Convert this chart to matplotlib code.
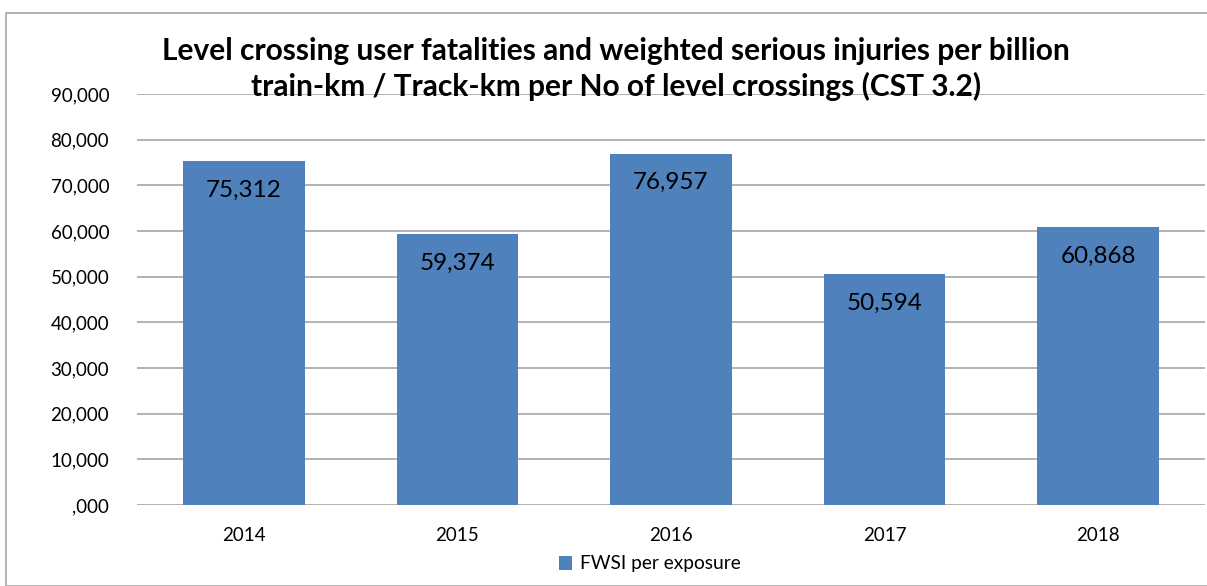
import matplotlib
matplotlib.use("Agg")
import matplotlib.pyplot as plt
from matplotlib.patches import Rectangle
from matplotlib.ticker import FuncFormatter

years = ["2014", "2015", "2016", "2017", "2018"]
values = [75312, 59374, 76957, 50594, 60868]
series_name = "FWSI per exposure"
title = ("Level crossing user fatalities and weighted serious injuries per billion\n"
         "train-km / Track-km per No of level crossings (CST 3.2)")

plt.rcParams['font.family'] = ['Lato', 'DejaVu Sans']

W, H = 1207, 586
fig = plt.figure(figsize=(W / 100, H / 100), dpi=100)

# outer chart border
fig.patches.append(Rectangle((6 / W, 0), 1.2, 1 - 13 / H, transform=fig.transFigure,
                             fill=False, edgecolor='#a6a6a6', linewidth=1.2))

left, right, top, bottom = 137, 1205, 94, 505
ax = fig.add_axes([left / W, 1 - bottom / H, (right - left) / W, (bottom - top) / H])

color = '#4f81bd'
x = list(range(len(years)))
bars = ax.bar(x, values, width=0.57, color=color, label=series_name, zorder=3)
ax.set_xlim(-0.5, len(years) - 0.5)
ax.set_ylim(0, 90000)
ax.set_yticks(range(0, 90001, 10000))


def fmt(v, pos):
    if v == 0:
        return ",000"
    return f"{int(v):,}"


ax.yaxis.set_major_formatter(FuncFormatter(fmt))
ax.set_xticks(x)
ax.set_xticklabels(years)
ax.grid(axis='y', color='#a6a6a6', linewidth=1.2, zorder=0)
for s in ax.spines.values():
    s.set_visible(False)
ax.tick_params(axis='both', length=0, labelsize=13.5, colors='black')
ax.tick_params(axis='y', pad=20)
ax.tick_params(axis='x', pad=16)

for xi, v in zip(x, values):
    ax.annotate(f"{v:,}", (xi, v), xytext=(0, -21), textcoords='offset points',
                ha='center', va='center', fontsize=17.5, color='black', zorder=4)

fig.text(616 / W, 1 - 69 / H, title, ha='center', va='center', fontsize=21.5,
         fontweight='bold', linespacing=1.25, zorder=5)

fig.legend(handles=[bars], labels=[series_name], loc='center',
           bbox_to_anchor=(650 / W, 1 - 564 / H), frameon=False, fontsize=13.8,
           handlelength=0.7, handleheight=0.7, handletextpad=0.4)

fig.savefig("out.png", dpi=100)
